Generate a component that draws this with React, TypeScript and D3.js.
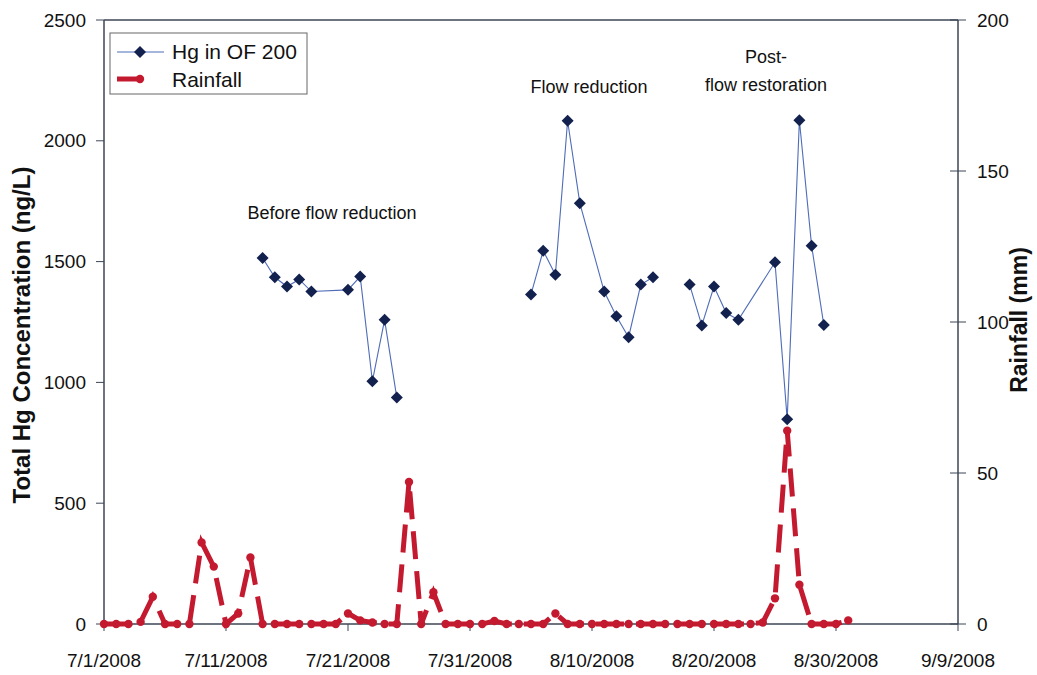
import React from "react";
import * as d3 from "d3";

const rainStart = "2008-07-01";
const rainfall: number[] = [
  0, 0, 0, 0.7, 9, 0, 0, 0, 27, 19, 0, 3.5, 22, 0, 0, 0, 0, 0, 0, 0,
  3.5, 1.2, 0.5, 0, 0, 47, 0, 10.5, 0, 0, 0, 0, 1, 0, 0, 0, 0, 3.5, 0, 0,
  0, 0, 0, 0, 0, 0, 0, 0, 0, 0, 0, 0, 0, 0, 0.5, 8.5, 64, 13, 0, 0,
  0, 1.2,
];

const hgDates: string[] = [
  "2008-07-14", "2008-07-15", "2008-07-16", "2008-07-17", "2008-07-18",
  "2008-07-21", "2008-07-22", "2008-07-23", "2008-07-24", "2008-07-25",
  "2008-07-30",
  "2008-08-05", "2008-08-06", "2008-08-07", "2008-08-08", "2008-08-09",
  "2008-08-11", "2008-08-12", "2008-08-13", "2008-08-14", "2008-08-15",
  "2008-08-16",
  "2008-08-18", "2008-08-19", "2008-08-20", "2008-08-21", "2008-08-22",
  "2008-08-25", "2008-08-26", "2008-08-27", "2008-08-28", "2008-08-29",
];
const hgValues: (number | null)[] = [
  1515, 1435, 1397, 1426, 1376, 1383, 1438, 1005, 1259, 937,
  null,
  1364, 1545, 1446, 2083, 1742, 1376, 1274, 1187, 1405, 1435,
  null,
  1405, 1236, 1397, 1287, 1259, 1497, 847, 2085, 1566, 1238,
];

const xTickDates = ["2008-07-01", "2008-07-11", "2008-07-21", "2008-07-31", "2008-08-10", "2008-08-20", "2008-08-30", "2008-09-09"];
const leftTicks = [0, 500, 1000, 1500, 2000, 2500];
const rightTicks = [0, 50, 100, 150, 200];

const annotationLines: string[][] = [["Before flow reduction"], ["Flow reduction"], ["Post-", "flow restoration"]];
const annotationPos = [
  { x: 332, y: 219 },
  { x: 589, y: 93 },
  { x: 766, y: 63 },
];

const parse = d3.timeParse("%Y-%m-%d");
const fmt = d3.timeFormat("%-m/%-d/%Y");

const W = 1037, H = 675;
const L = 104, R = 958, T = 20, B = 624;
const FONT = '"Liberation Sans", Arial, Helvetica, sans-serif';
const RED = "#c41a30";
const NAVY = "#13214f";
const BLUE = "#4f6cb8";
const AXIS = "#3c4656";

export default function App() {
  const x = d3.scaleTime().domain([parse("2008-07-01")!, parse("2008-09-09")!]).range([L, R]);
  const yL = d3.scaleLinear().domain([0, 2500]).range([B, T]);
  const yR = d3.scaleLinear().domain([0, 200]).range([B, T]);

  const start = parse(rainStart)!;
  const rainData = rainfall.map((v, i) => ({ d: d3.timeDay.offset(start, i), v }));
  const hgData = hgDates.map((s, i) => ({ d: parse(s)!, v: hgValues[i] }));

  const rainLine = d3.line<{ d: Date; v: number }>().x((p) => x(p.d)).y((p) => yR(p.v));
  const hgLine = d3
    .line<{ d: Date; v: number | null }>()
    .defined((p) => p.v != null)
    .x((p) => x(p.d))
    .y((p) => yL(p.v as number));

  const diamond = (cx: number, cy: number, r: number) =>
    `M${cx},${cy - r}L${cx + r},${cy}L${cx},${cy + r}L${cx - r},${cy}Z`;

  return (
    <svg width={W} height={H} style={{ position: "absolute", left: 0, top: 0, background: "#fff" }} fontFamily={FONT}>
      <rect x={0} y={0} width={W} height={H} fill="#fff" />
      {/* frame */}
      <line x1={L} y1={T} x2={R} y2={T} stroke={AXIS} strokeWidth={1.5} />
      <line x1={L} y1={T} x2={L} y2={B} stroke={AXIS} strokeWidth={1.5} />
      <line x1={R} y1={T} x2={R} y2={B} stroke={AXIS} strokeWidth={1.5} />
      <line x1={L} y1={B} x2={R} y2={B} stroke={AXIS} strokeWidth={1.5} />

      {/* left axis */}
      {leftTicks.map((t) => (
        <g key={"l" + t}>
          <line x1={L - 8} x2={L} y1={yL(t)} y2={yL(t)} stroke={AXIS} strokeWidth={1} />
          <text x={L - 18} y={yL(t)} dy="0.35em" textAnchor="end" fontSize={19} fill="#111">{t}</text>
        </g>
      ))}
      {/* right axis */}
      {rightTicks.map((t) => (
        <g key={"r" + t}>
          <line x1={R - 8} x2={R + 8} y1={yR(t)} y2={yR(t)} stroke={AXIS} strokeWidth={1} />
          <text x={R + 19} y={yR(t)} dy="0.35em" textAnchor="start" fontSize={19} fill="#111">{t}</text>
        </g>
      ))}
      {/* bottom axis */}
      {xTickDates.map((s) => {
        const d = parse(s)!;
        return (
          <g key={s}>
            <line x1={x(d)} x2={x(d)} y1={B} y2={B + 7} stroke={AXIS} strokeWidth={1} />
            <text x={x(d)} y={667} textAnchor="middle" fontSize={19} fill="#111">{fmt(d)}</text>
          </g>
        );
      })}

      {/* axis titles */}
      <text transform={`translate(30,335) rotate(-90)`} textAnchor="middle" fontSize={24} fontWeight="bold" fill="#111">
        Total Hg Concentration (ng/L)
      </text>
      <text transform={`translate(1027,320) rotate(-90)`} textAnchor="middle" fontSize={23} fontWeight="bold" fill="#111">
        Rainfall (mm)
      </text>

      {/* rainfall */}
      <path d={rainLine(rainData) || ""} fill="none" stroke={RED} strokeWidth={5} strokeDasharray="28,12" />
      {rainData.map((p, i) => (
        <circle key={"c" + i} cx={x(p.d)} cy={yR(p.v)} r={4.2} fill={RED} />
      ))}

      {/* Hg */}
      <path d={hgLine(hgData) || ""} fill="none" stroke={BLUE} strokeWidth={1.1} />
      {hgData.filter((p) => p.v != null).map((p, i) => (
        <path key={"h" + i} d={diamond(x(p.d), yL(p.v as number), 6)} fill={NAVY} />
      ))}

      {/* annotations */}
      {annotationLines.map((lines, i) => (
        <text key={"a" + i} x={annotationPos[i].x} y={annotationPos[i].y} textAnchor="middle" fontSize={18} fill="#111">
          {lines.map((ln, j) => (
            <tspan key={j} x={annotationPos[i].x} dy={j === 0 ? 0 : 28}>{ln}</tspan>
          ))}
        </text>
      ))}

      {/* legend */}
      <rect x={110} y={33} width={197} height={61} fill="#fff" stroke="#666" strokeWidth={1} />
      <line x1={117} x2={164} y1={52} y2={52} stroke={BLUE} strokeWidth={1.1} />
      <path d={diamond(140, 52, 6)} fill={NAVY} />
      <text x={172} y={59} fontSize={21} fill="#111">Hg in OF 200</text>
      <line x1={117} x2={143} y1={79} y2={79} stroke={RED} strokeWidth={5} />
      <circle cx={140} cy={79} r={4.2} fill={RED} />
      <text x={172} y={87} fontSize={21} fill="#111">Rainfall</text>
    </svg>
  );
}
